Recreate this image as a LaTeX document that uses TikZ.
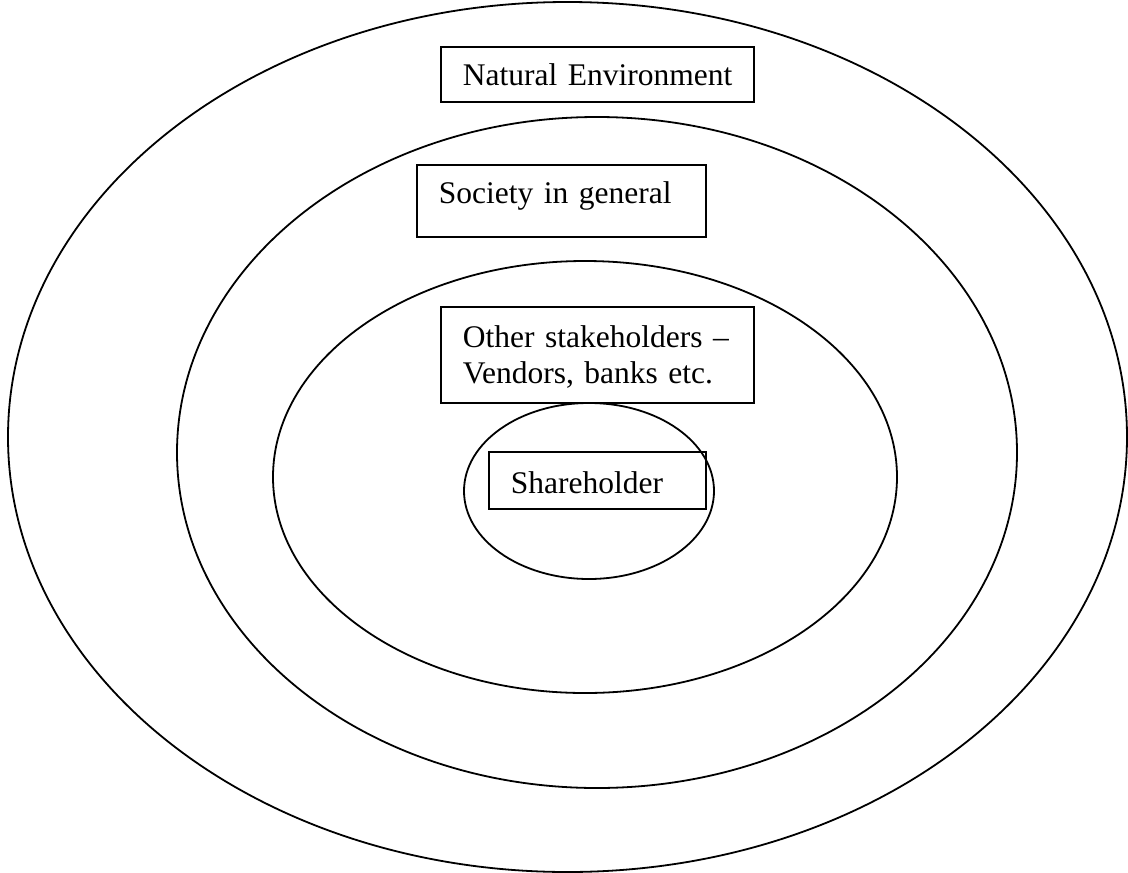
\documentclass[tikz,border=0pt]{standalone}
\usepackage{fontspec}
\setmainfont{Liberation Serif}
\usetikzlibrary{shapes.geometric}
\begin{document}
\begin{tikzpicture}[x=1pt,y=-1pt,line width=1.8pt,
  ring/.style={ellipse, draw, inner sep=0pt},
  labelbox/.style={draw, rectangle, inner sep=0pt, align=left, anchor=base west,
    font=\fontsize{31.5}{36.2}\selectfont}]
\useasboundingbox (0,0) rectangle (1128,873);
% rings
\node[ring, minimum width=1119pt, minimum height=870pt] (outer) at (567.5,437) {};
\node[ring, minimum width=840pt, minimum height=671pt] (society) at (597,452.5) {};
\node[ring, minimum width=624pt, minimum height=432pt] (others) at (585,477) {};
\node[ring, minimum width=250pt, minimum height=176pt] (inner) at (589,491) {};
% labels
\node[labelbox, text width=313pt, text height=38pt, text depth=17pt] (nat) at (440,85)
  {\hspace*{22pt}Natural Environment};
\node[labelbox, text width=289pt, text height=38pt, text depth=34pt] (soc) at (416,203)
  {\hspace*{22pt}Society in general};
\node[labelbox, text width=313pt, text height=40pt, text depth=56pt] (oth) at (440,347)
  {\hspace*{22pt}Other stakeholders –\\\hspace*{22pt}Vendors, banks etc.};
\node[labelbox, text width=217pt, text height=41pt, text depth=16pt] (sha) at (488,493)
  {\hspace*{22pt}Shareholder};
\end{tikzpicture}
\end{document}
